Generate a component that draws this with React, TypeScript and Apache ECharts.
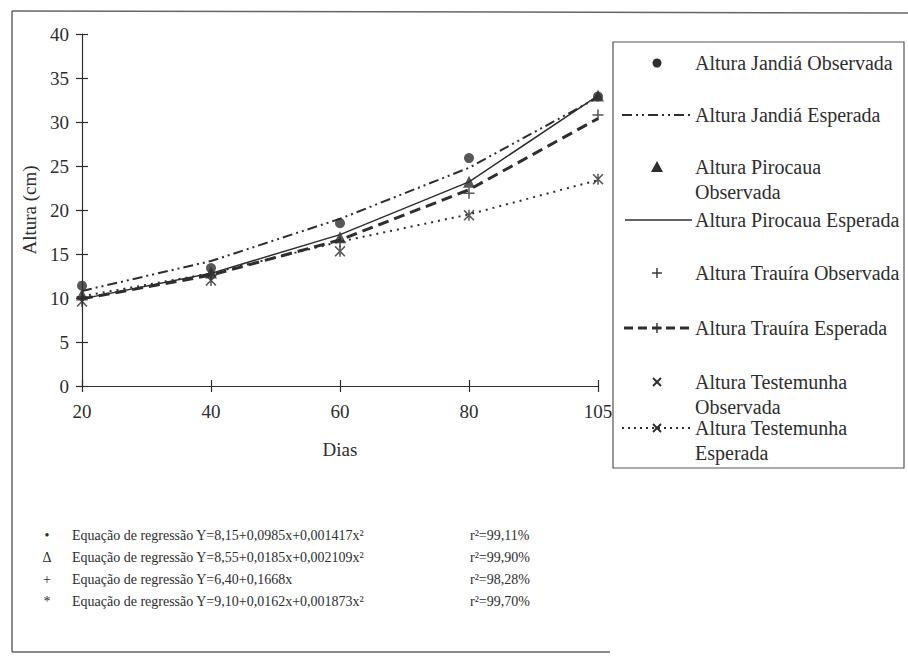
import React, { useEffect, useRef } from 'react';
import * as echarts from 'echarts';

// ---- Data ----
const categories = ['20', '40', '60', '80', '105'];

const jandiaObservada = [11.4, 13.4, 18.5, 25.9, 32.9];
const jandiaEsperada = [10.8, 14.2, 19.0, 24.8, 32.8];
const pirocauaObservada = [10.4, 12.9, 16.9, 23.2, 33.0];
const pirocauaEsperada = [9.9, 12.8, 17.2, 23.2, 33.0];
const trauiraObservada = [10.1, 12.6, 16.4, 21.9, 30.8];
const trauiraEsperada = [9.9, 12.6, 16.6, 22.3, 30.4];
const testemunhaObservada = [9.6, 12.0, 15.3, 19.4, 23.5];
const testemunhaEsperada = [10.2, 12.8, 16.4, 19.5, 23.4];

const legendLabels = [
  'Altura Jandiá Observada',
  'Altura Jandiá Esperada',
  'Altura Pirocaua\nObservada',
  'Altura Pirocaua Esperada',
  'Altura Trauíra Observada',
  'Altura Trauíra Esperada',
  'Altura Testemunha\nObservada',
  'Altura Testemunha\nEsperada',
];

const eqSymbols = ['•', 'Δ', '+', '*'];
const eqTexts = [
  'Equação de regressão Y=8,15+0,0985x+0,001417x²',
  'Equação de regressão Y=8,55+0,0185x+0,002109x²',
  'Equação de regressão Y=6,40+0,1668x',
  'Equação de regressão Y=9,10+0,0162x+0,001873x²',
];
const eqR2 = ['r²=99,11%', 'r²=99,90%', 'r²=98,28%', 'r²=99,70%'];

// ---- Styles ----
const FONT = 'Liberation Serif';
const INK = '#2e2e2e';
const CROSS = 'path://M4.3,0h1.4v4.3h4.3v1.4h-4.3v4.3h-1.4v-4.3h-4.3v-1.4h4.3z';
const STAR = 'path://M1,0L5,4L9,0L10,1L6,5L10,9L9,10L5,6L1,10L0,9L4,5L0,1Z M4.3,0h1.4v10h-1.4z';

const DASH_DOT = [10, 4, 2, 4, 2, 4];
const DASH = [11, 6];
const DOT = [2, 5];

const legendRowY = [63, 115, 167, 220, 273, 328, 382, 428];

function legendGraphic() {
  const els: any[] = [];
  els.push({
    type: 'rect',
    shape: { x: 613, y: 42, width: 291, height: 426 },
    style: { fill: '#fff', stroke: '#555', lineWidth: 1.2 },
  });
  const sx = 657;
  const lx1 = 622;
  const lx2 = 691;
  legendLabels.forEach((label, i) => {
    const y = legendRowY[i];
    els.push({
      type: 'text',
      style: {
        text: label,
        x: 695,
        y: y - 12.5,
        fill: INK,
        fontSize: 20,
        fontFamily: FONT,
        lineHeight: 25,
        verticalAlign: 'top',
        align: 'left',
      },
    });
  });
  // 1: circle
  els.push({ type: 'circle', shape: { cx: sx, cy: legendRowY[0], r: 4.5 }, style: { fill: INK } });
  // 2: dash-dot line
  els.push({ type: 'line', shape: { x1: lx1, y1: legendRowY[1], x2: lx2, y2: legendRowY[1] }, style: { stroke: INK, lineWidth: 2, lineDash: DASH_DOT } });
  // 3: triangle
  const ty = legendRowY[2];
  els.push({ type: 'polygon', shape: { points: [[sx - 6, ty + 5], [sx + 6, ty + 5], [sx, ty - 6]] }, style: { fill: INK } });
  // 4: solid line
  els.push({ type: 'line', shape: { x1: lx1 + 3, y1: legendRowY[3], x2: lx2 + 1, y2: legendRowY[3] }, style: { stroke: INK, lineWidth: 1.5 } });
  // 5: cross
  const cy = legendRowY[4];
  els.push({ type: 'line', shape: { x1: sx - 5, y1: cy, x2: sx + 5, y2: cy }, style: { stroke: INK, lineWidth: 1.4 } });
  els.push({ type: 'line', shape: { x1: sx, y1: cy - 5, x2: sx, y2: cy + 5 }, style: { stroke: INK, lineWidth: 1.4 } });
  // 6: dashed with cross
  const dy = legendRowY[5];
  els.push({ type: 'line', shape: { x1: lx1 + 2, y1: dy, x2: lx2, y2: dy }, style: { stroke: INK, lineWidth: 3, lineDash: [9, 5] } });
  els.push({ type: 'line', shape: { x1: sx - 5, y1: dy, x2: sx + 5, y2: dy }, style: { stroke: INK, lineWidth: 1.4 } });
  els.push({ type: 'line', shape: { x1: sx, y1: dy - 5, x2: sx, y2: dy + 5 }, style: { stroke: INK, lineWidth: 1.4 } });
  // 7: x
  const xy = legendRowY[6];
  els.push({ type: 'line', shape: { x1: sx - 4, y1: xy - 4, x2: sx + 4, y2: xy + 4 }, style: { stroke: INK, lineWidth: 2 } });
  els.push({ type: 'line', shape: { x1: sx - 4, y1: xy + 4, x2: sx + 4, y2: xy - 4 }, style: { stroke: INK, lineWidth: 2 } });
  // 8: dotted with x
  const ey = legendRowY[7];
  els.push({ type: 'line', shape: { x1: lx1, y1: ey, x2: lx2, y2: ey }, style: { stroke: INK, lineWidth: 2, lineDash: [2, 4] } });
  els.push({ type: 'line', shape: { x1: sx - 4, y1: ey - 4, x2: sx + 4, y2: ey + 4 }, style: { stroke: INK, lineWidth: 2 } });
  els.push({ type: 'line', shape: { x1: sx - 4, y1: ey + 4, x2: sx + 4, y2: ey - 4 }, style: { stroke: INK, lineWidth: 2 } });
  return { type: 'group', z: 100, children: els };
}

function equationGraphic() {
  const els: any[] = [];
  const ys = [535, 557, 579, 601];
  eqTexts.forEach((t, i) => {
    const y = ys[i];
    els.push({ type: 'text', style: { text: eqSymbols[i], x: 47, y, fill: INK, fontSize: 14, fontFamily: FONT, align: 'center', verticalAlign: 'middle' } });
    els.push({ type: 'text', style: { text: t, x: 72, y, fill: INK, fontSize: 14, fontFamily: FONT, align: 'left', verticalAlign: 'middle' } });
    els.push({ type: 'text', style: { text: eqR2[i], x: 470, y, fill: INK, fontSize: 14, fontFamily: FONT, align: 'left', verticalAlign: 'middle' } });
  });
  return { type: 'group', z: 100, children: els };
}

function frameGraphic() {
  const st = { stroke: '#666', lineWidth: 1.5 };
  return {
    type: 'group',
    z: 0,
    children: [
      { type: 'line', shape: { x1: 12, y1: 11, x2: 908, y2: 13 }, style: st },
      { type: 'line', shape: { x1: 12, y1: 11, x2: 12, y2: 652 }, style: st },
      { type: 'line', shape: { x1: 12, y1: 652, x2: 610, y2: 652 }, style: st },
    ],
  };
}

function buildOption() {
  const axisFont = { color: INK, fontSize: 19, fontFamily: FONT };
  return {
    animation: false,
    backgroundColor: '#fff',
    textStyle: { fontFamily: FONT },
    grid: { left: 82, right: 310, top: 34, bottom: 273, containLabel: false },
    xAxis: [
      {
        type: 'category',
        data: categories,
        boundaryGap: false,
        name: 'Dias',
        nameLocation: 'middle',
        nameGap: 54,
        nameTextStyle: axisFont,
        axisLine: { lineStyle: { color: INK, width: 1.2 } },
        axisTick: { length: 6, lineStyle: { color: INK, width: 1.2 } },
        axisLabel: { ...axisFont, margin: 16 },
        splitLine: { show: false },
      },
      {
        type: 'category',
        data: categories,
        boundaryGap: false,
        position: 'bottom',
        axisLine: { show: false },
        axisTick: { inside: true, length: 6, lineStyle: { color: INK, width: 1.2 } },
        axisLabel: { show: false },
        splitLine: { show: false },
      },
    ],
    yAxis: [
      {
        type: 'value',
        min: 0,
        max: 40,
        interval: 5,
        name: 'Altura (cm)',
        nameLocation: 'middle',
        nameGap: 38,
        nameTextStyle: axisFont,
        axisLine: { show: true, lineStyle: { color: INK, width: 1.2 } },
        axisTick: { show: true, length: 6, lineStyle: { color: INK, width: 1.2 } },
        axisLabel: { ...axisFont, margin: 13 },
        splitLine: { show: false },
      },
      {
        type: 'value',
        min: 0,
        max: 40,
        interval: 5,
        position: 'left',
        axisLine: { show: false },
        axisTick: { show: true, inside: true, length: 6, lineStyle: { color: INK, width: 1.2 } },
        axisLabel: { show: false },
        splitLine: { show: false },
      },
    ],
    series: [
      { name: 'Altura Jandiá Esperada', type: 'line', data: jandiaEsperada, symbol: 'none', z: 2,
        lineStyle: { color: INK, width: 2, type: DASH_DOT } },
      { name: 'Altura Pirocaua Esperada', type: 'line', data: pirocauaEsperada, symbol: 'none', z: 2,
        lineStyle: { color: INK, width: 1.5, type: 'solid' } },
      { name: 'Altura Trauíra Esperada', type: 'line', data: trauiraEsperada, symbol: 'none', z: 2,
        lineStyle: { color: INK, width: 3, type: DASH } },
      { name: 'Altura Testemunha Esperada', type: 'line', data: testemunhaEsperada, symbol: 'none', z: 2,
        lineStyle: { color: INK, width: 2, type: DOT } },
      { name: 'Altura Jandiá Observada', type: 'scatter', data: jandiaObservada, symbol: 'circle', symbolSize: 10, z: 5,
        itemStyle: { color: INK } },
      { name: 'Altura Pirocaua Observada', type: 'scatter', data: pirocauaObservada, symbol: 'triangle', symbolSize: 12, z: 5,
        itemStyle: { color: INK } },
      { name: 'Altura Trauíra Observada', type: 'scatter', data: trauiraObservada, symbol: CROSS, symbolSize: 11, z: 5,
        itemStyle: { color: INK } },
      { name: 'Altura Testemunha Observada', type: 'scatter', data: testemunhaObservada, symbol: STAR, symbolSize: 11, z: 5,
        itemStyle: { color: INK } },
    ],
    graphic: [frameGraphic(), legendGraphic(), equationGraphic()],
  };
}

export default function App() {
  const ref = useRef<HTMLDivElement>(null);
  useEffect(() => {
    if (!ref.current) return;
    const chart = echarts.init(ref.current, null, { renderer: 'svg' });
    chart.setOption(buildOption() as any);
    return () => {
      chart.dispose();
    };
  }, []);
  return (
    <div
      ref={ref}
      style={{ position: 'absolute', left: 0, top: 0, width: 908, height: 659, background: '#fff' }}
    />
  );
}
